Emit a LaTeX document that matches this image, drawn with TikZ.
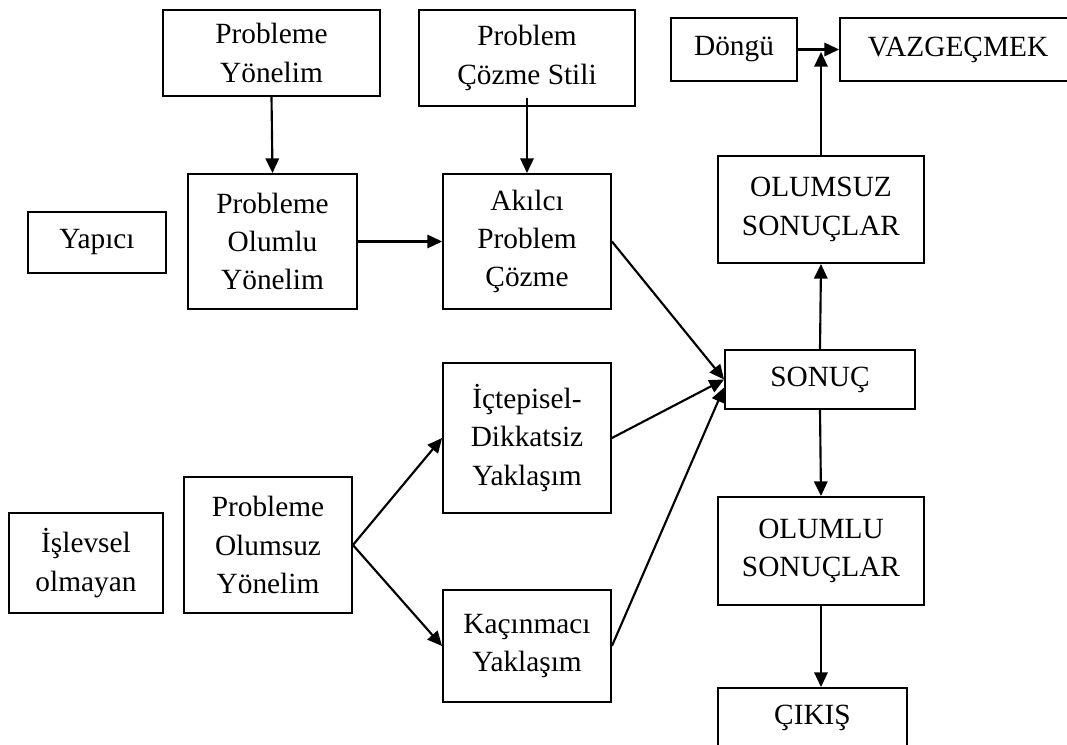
\documentclass[tikz,border=0pt]{standalone}
\usepackage{fontspec}
\setmainfont{Liberation Serif}
\usetikzlibrary{arrows.meta}

\begin{document}
\begin{tikzpicture}
[x=0.75pt,y=-0.75pt,
 boxDecorate/.style={shape=rectangle,draw,line width=1.4pt,align=center,inner sep=0pt,%
   font=\fontsize{22}{28.7}\selectfont},%
 arrowDecorate/.style={-{Triangle[length=11pt,width=10pt]},line width=1.6pt}]
\useasboundingbox (0,0) rectangle (1067,745);
\clip (0,0) rectangle (1067,745);
%% boxes
\foreach \nodename/\x/\y/\w/\h/\nodetext in {
  yonelim/271.5/53/217/86/{Probleme\\Yönelim},
  stil/527/58/216/96/{Problem\\Çözme Stili},
  dongu/734/49.5/126/63/{Döngü},
  vazgec/958/49.5/236/63/{VAZGEÇMEK},
  yapici/97/242.5/138/61/{Yapıcı},
  olumlu/272.5/241.5/169/135/{Probleme\\Olumlu\\Yönelim},
  akilci/527/241.5/168/135/{Akılcı\\Problem\\Çözme},
  olumsuzSonuc/821/209.5/206/107/{OLUMSUZ\\SONUÇLAR},
  sonuc/820/379.5/190/59/{SONUÇ},
  ictepisel/527/438/168/150/{İçtepisel-\\Dikkatsiz\\Yaklaşım},
  islevsel/86/563/154/100/{İşlevsel\\olmayan},
  olumsuz/268/545/168/136/{Probleme\\Olumsuz\\Yönelim},
  kacinmaci/527/646/168/112/{Kaçınmacı\\Yaklaşım},
  olumluSonuc/821/551/206/108/{OLUMLU\\SONUÇLAR},
  cikis/812.5/717.5/189/59/{ÇIKIŞ}}
{
  \node (\nodename) at (\x,\y) [boxDecorate,minimum width=0.75pt*\w,minimum height=0.75pt*\h] {\nodetext};
}
%% loose ends
\coordinate (stilfoot) at ([yshift=6.75pt]stil.south);
\coordinate (kacend) at ([yshift=-6pt]sonuc.west);
\coordinate (meet) at (821,52);
\coordinate (cikistop) at (olumluSonuc.south |- cikis.north);
%% arrows
\path
\foreach \startnode/\endnode in {yonelim.south/olumlu.north, stilfoot/akilci.north,
  olumlu.east/akilci.west, akilci.east/sonuc.west, ictepisel.east/sonuc.west,
  kacinmaci.east/kacend, olumsuz.east/ictepisel.west, olumsuz.east/kacinmaci.west,
  sonuc.north/olumsuzSonuc.south, olumsuzSonuc.north/meet, dongu.east/vazgec.west,
  sonuc.south/olumluSonuc.north, olumluSonuc.south/cikistop}
{
  (\startnode) edge[arrowDecorate] (\endnode)
};
\end{tikzpicture}
\end{document}
